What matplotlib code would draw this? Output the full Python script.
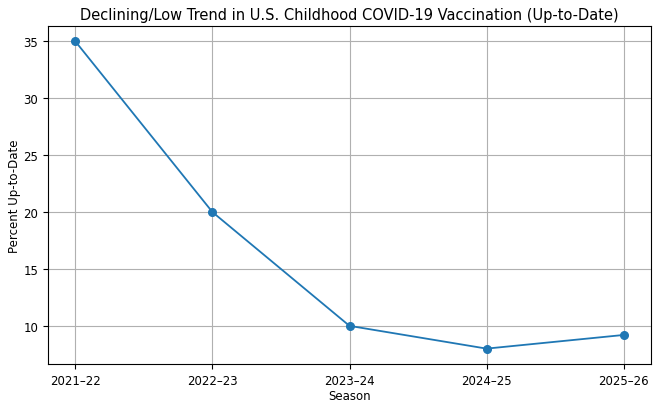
import matplotlib
matplotlib.use('agg')
import matplotlib.pyplot as plt

seasons = ["2021\u201322", "2022\u201323", "2023\u201324", "2024\u201325", "2025\u201326"]
pct_up_to_date = [35, 20, 10, 8, 9.2]

fig, ax = plt.subplots(figsize=(6.6, 4.1), dpi=100)
ax.plot(seasons, pct_up_to_date, marker='o', markersize=5.5, linewidth=1.3)
ax.set_title("Declining/Low Trend in U.S. Childhood COVID-19 Vaccination (Up-to-Date)", fontsize=10.5, pad=5)
ax.set_xlabel("Season", fontsize=8.5, labelpad=2)
ax.set_ylabel("Percent Up-to-Date", fontsize=8.5, labelpad=2)
ax.tick_params(labelsize=8.5)
ax.grid(True)
fig.subplots_adjust(left=0.0727, right=0.9864, top=0.934, bottom=0.1098)
fig.savefig("out.png")
